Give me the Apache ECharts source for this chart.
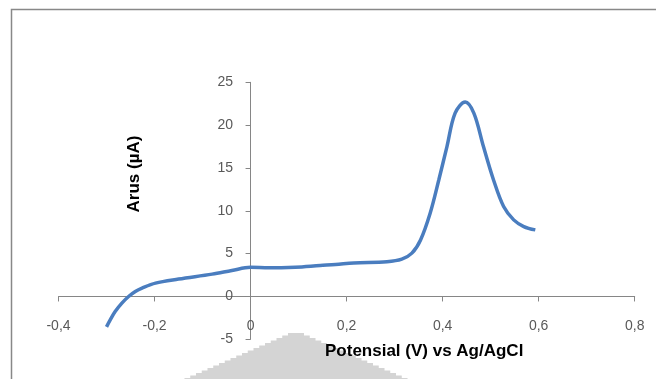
<!DOCTYPE html>
<html>
<head>
<meta charset="utf-8">
<script src="https://cdn.jsdelivr.net/npm/echarts@6/dist/echarts.min.js"></script>
<style>
  html, body { margin: 0; padding: 0; background: #fff; }
  #chart { width: 656px; height: 379px; }
</style>
</head>
<body>
<div id="chart"></div>
<script>
// Differential pulse voltammogram: current vs potential
const potential = [-0.300, -0.292, -0.282, -0.268, -0.254, -0.240, -0.226, -0.198, -0.150, -0.080, -0.039,
  0.000, 0.038, 0.093, 0.145, 0.177, 0.215, 0.284, 0.315, 0.336, 0.354, 0.374, 0.392, 0.409, 0.426,
  0.447, 0.465, 0.485, 0.506, 0.527, 0.548, 0.569, 0.593];
const current = [-3.55, -2.70, -1.75, -0.77, 0.00, 0.58, 0.98, 1.56, 2.03, 2.61, 3.03,
  3.40, 3.34, 3.42, 3.62, 3.73, 3.92, 4.06, 4.36, 5.06, 6.60, 9.72, 13.6, 17.5, 21.4,
  22.7, 21.4, 17.5, 13.6, 10.5, 8.94, 8.16, 7.77];

const xTicks = [-0.4, -0.2, 0, 0.2, 0.4, 0.6, 0.8];
const yTicks = [-5, 0, 5, 10, 15, 20, 25];
const xTitle = 'Potensial (V) vs Ag/AgCl';
const yTitle = 'Arus (µA)';

const chart = echarts.init(document.getElementById('chart'), null, { renderer: 'canvas' });

// decimal comma tick labels
function commaLabel(v) {
  if (Math.abs(v) < 1e-9) return '0';
  return (Math.round(v * 10) / 10).toFixed(1).replace('.', ',');
}

// stepped grey backdrop shape near the bottom
function steppedPeak(cx, top, bottom, halfTop, slope, step) {
  const left = [], right = [];
  for (let y = top; y < bottom + step; y += step) {
    const w = halfTop + (y - top) * slope;
    left.push([cx - w, y], [cx - w, y + step]);
    right.push([cx + w, y], [cx + w, y + step]);
  }
  right.reverse();
  return left.concat(right);
}

const axisColor = '#868686';
const labelStyle = { color: '#595959', fontSize: 14, fontFamily: 'Liberation Sans, Arial, sans-serif' };

// tick labels sit next to the crossing axis lines (x = 0 and y = 0), not the grid edges
const gridLeft = 58.5, gridBottom = 39.7;

chart.setOption({
  animation: false,
  backgroundColor: '#fff',
  grid: { left: gridLeft, right: 21.3, top: 82.3, bottom: gridBottom, containLabel: false },
  xAxis: {
    type: 'value',
    min: xTicks[0],
    max: xTicks[xTicks.length - 1],
    interval: 0.2,
    axisLine: { onZero: true, lineStyle: { color: axisColor, width: 1 } },
    axisTick: { show: true, inside: false, length: 5, lineStyle: { color: axisColor } },
    axisLabel: Object.assign({ margin: -20, formatter: commaLabel }, labelStyle),
    splitLine: { show: false }
  },
  yAxis: {
    type: 'value',
    min: yTicks[0],
    max: yTicks[yTicks.length - 1],
    interval: 5,
    axisLine: { show: true, onZero: true, lineStyle: { color: axisColor, width: 1 } },
    axisTick: { show: true, inside: false, length: 5, lineStyle: { color: axisColor } },
    axisLabel: Object.assign({ margin: -174.5 }, labelStyle),
    splitLine: { show: false }
  },
  graphic: [
    {
      type: 'rect',
      z: -20,
      silent: true,
      shape: { x: 11.5, y: 9.5, width: 800, height: 500 },
      style: { fill: 'none', stroke: '#888', lineWidth: 1.5 }
    },
    {
      type: 'polygon',
      z: -10,
      silent: true,
      shape: { points: steppedPeak(296, 333, 379, 8, 2.3, 2.5) },
      style: { fill: '#d4d4d4' }
    },
    {
      type: 'text',
      z: 10,
      left: 325,
      top: 343,
      style: { text: xTitle, fill: '#000', font: 'bold 17px "Liberation Sans", Arial, sans-serif' }
    },
    {
      type: 'text',
      z: 10,
      x: 134,
      y: 174,
      rotation: Math.PI / 2,
      style: {
        text: yTitle, fill: '#000', align: 'center', verticalAlign: 'middle',
        font: 'bold 17px "Liberation Sans", Arial, sans-serif'
      }
    }
  ],
  series: [{
    type: 'line',
    data: potential.map((p, i) => [p, current[i]]),
    smooth: 0.35,
    showSymbol: false,
    lineStyle: { color: '#4a7dbf', width: 3.5 },
    z: 5
  }]
});
</script>
</body>
</html>
